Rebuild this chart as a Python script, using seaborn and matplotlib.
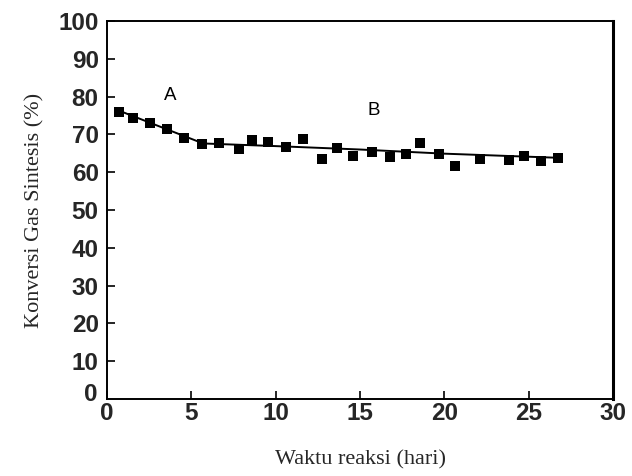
import matplotlib
matplotlib.use("Agg")
import matplotlib.pyplot as plt
import seaborn as sns
import pandas as pd

# Measured conversion of synthesis gas over reaction time
hari = [0.7, 1.55, 2.54, 3.53, 4.56, 5.65, 6.64, 7.83, 8.58, 9.57, 10.62, 11.61,
        12.74, 13.63, 14.56, 15.71, 16.76, 17.75, 18.58, 19.67, 20.66, 22.09,
        23.83, 24.72, 25.71, 26.76]
konversi = [76.0, 74.4, 72.9, 71.4, 69.0, 67.4, 67.6, 66.1, 68.5, 68.1, 66.7, 68.8,
            63.5, 66.3, 64.3, 65.3, 64.1, 64.7, 67.6, 64.7, 61.7, 63.5,
            63.2, 64.4, 63.0, 63.7]

# Trend line through the data
tren_hari = [0.7, 5.7, 10.0, 15.0, 20.0, 26.8]
tren_konversi = [76.3, 67.6, 66.9, 66.0, 64.9, 63.8]

# Region labels
label_teks = ["A", "B"]
label_x = [3.75, 15.8]
label_y = [80.2, 76.3]

x_ticks = [0, 5, 10, 15, 20, 25, 30]
y_ticks = [10, 20, 30, 40, 50, 60, 70, 80, 90, 100]

sns.set_theme(style="ticks")
plt.rcParams["font.family"] = ["Liberation Sans", "DejaVu Sans"]

fig = plt.figure(figsize=(6.32, 4.76), dpi=100)
ax = fig.add_axes([0.1693, 0.1618, 0.8007, 0.7941])

data = pd.DataFrame({"hari": hari, "konversi": konversi})
tren = pd.DataFrame({"hari": tren_hari, "konversi": tren_konversi})

sns.lineplot(data=tren, x="hari", y="konversi", ax=ax, color="black", lw=1.4)
sns.scatterplot(data=data, x="hari", y="konversi", ax=ax, marker="s", s=48,
                color="black", edgecolor="black", linewidth=0, zorder=3)

for t, xx, yy in zip(label_teks, label_x, label_y):
    ax.text(xx, yy, t, fontsize=13.5, ha="center", va="center", color="black")

tick_font = dict(fontsize=17.5, fontweight="bold")
ax.set_xlim(0, 30)
ax.set_ylim(0, 100)
ax.set_xticks(x_ticks)
ax.set_yticks(y_ticks)
ax.set_xticklabels([str(v) for v in x_ticks], **tick_font)
ax.set_yticklabels([str(v) for v in y_ticks], **tick_font)
ax.tick_params(axis="both", direction="in", length=6, width=1.2, color="black")
ax.tick_params(axis="x", pad=2)
ax.tick_params(axis="y", pad=6)
ax.text(-0.018, 0.012, "0", transform=ax.transAxes, ha="right", va="center",
        **tick_font)

for side in ["left", "bottom", "top"]:
    ax.spines[side].set_linewidth(1.4)
    ax.spines[side].set_color("black")
ax.spines["right"].set_linewidth(2.2)
ax.spines["right"].set_color("black")

ax.set_xlabel("Waktu reaksi (hari)", fontsize=16, family="Liberation Serif",
              labelpad=18)
ax.set_ylabel("Konversi Gas Sintesis (%)", fontsize=16, family="Liberation Serif",
              labelpad=10)

fig.savefig("out.png", dpi=100, facecolor="white")
